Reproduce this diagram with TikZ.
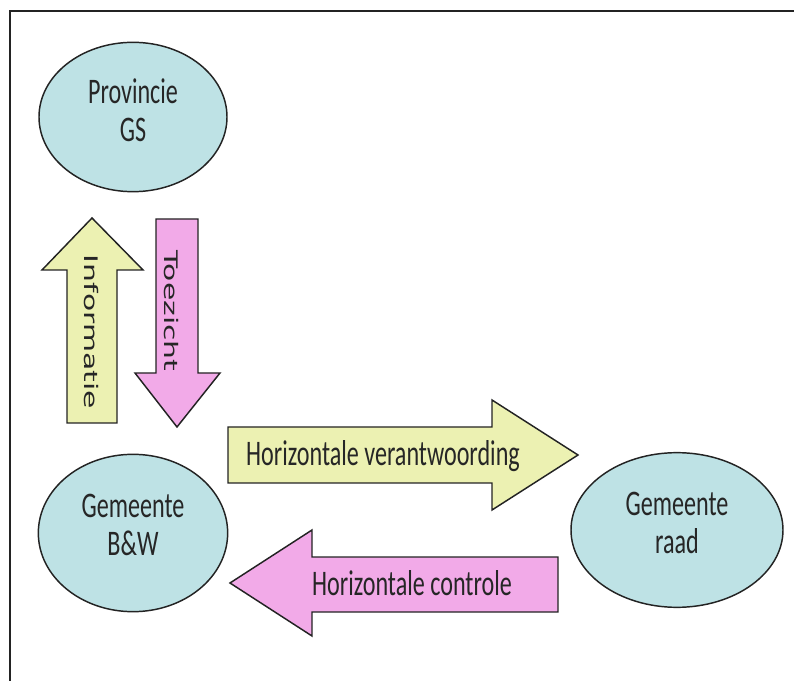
\documentclass[tikz,border=0pt]{standalone}
\usepackage{fontspec}
\setmainfont[FakeStretch=0.67]{Carlito}
\newfontfamily\widefont[FakeStretch=1.6]{DejaVu Sans}
\usetikzlibrary{shapes.geometric}
\definecolor{bodyblue}{RGB}{190,226,229}
\definecolor{upyellow}{RGB}{236,241,178}
\definecolor{downpink}{RGB}{242,170,232}
\definecolor{edgegray}{RGB}{35,35,35}

\begin{document}
\begin{tikzpicture}[x=0.75pt, y=-0.75pt]
  \tikzstyle{every node} = [text=black!85, font=\fontsize{27}{28.5}\selectfont]
  \tikzstyle{body} = [ellipse, draw=edgegray, line width=1.1pt, fill=bodyblue, inner sep=0pt]
  \tikzstyle{flow} = [draw=edgegray, line width=1.1pt, line join=miter]
  \tikzstyle{sideways} = [rotate=-90, font=\widefont\fontsize{14}{16}\selectfont]
  \useasboundingbox (0,0) rectangle (794,681);
  \draw[line width=2pt, edgegray] (794,11) -- (10,11) -- (10,681);

  \node[body, minimum width=141pt, minimum height=112pt] (prov) at (133,117) {};
  \node[body, minimum width=142pt, minimum height=118pt] (bw) at (133,533) {};
  \node[body, minimum width=159pt, minimum height=116pt] (raad) at (677,530) {};
  \node[align=center] (provtext) at (133,110) {Provincie\\GS};
  \node[align=center] (bwtext) at (133,525) {Gemeente\\B\&W};
  \node[align=center] (raadtext) at (677,523) {Gemeente\\raad};

  \draw[flow, fill=upyellow] (67,423) -- (67,270) -- (42,270) -- (92,218) -- (143,270) -- (117,270) -- (117,423) -- cycle;
  \draw[flow, fill=downpink] (156,219) -- (198,219) -- (198,373) -- (220,373) -- (177,427) -- (135,373) -- (156,373) -- cycle;
  \draw[flow, fill=upyellow] (228,427) -- (492,427) -- (492,400) -- (578,455) -- (492,510) -- (492,483) -- (228,483) -- cycle;
  \draw[flow, fill=downpink] (558,557) -- (312,557) -- (312,530) -- (230,583) -- (312,636) -- (312,612) -- (558,612) -- cycle;

  \node[sideways] (informatie) at (91,332) {Informatie};
  \node[sideways] (toezicht) at (171,311) {Toezicht};
  \node[anchor=base] (verantw) at (383,466) {Horizontale verantwoording};
  \node[anchor=base] (controle) at (412,595) {Horizontale controle};
\end{tikzpicture}
\end{document}
